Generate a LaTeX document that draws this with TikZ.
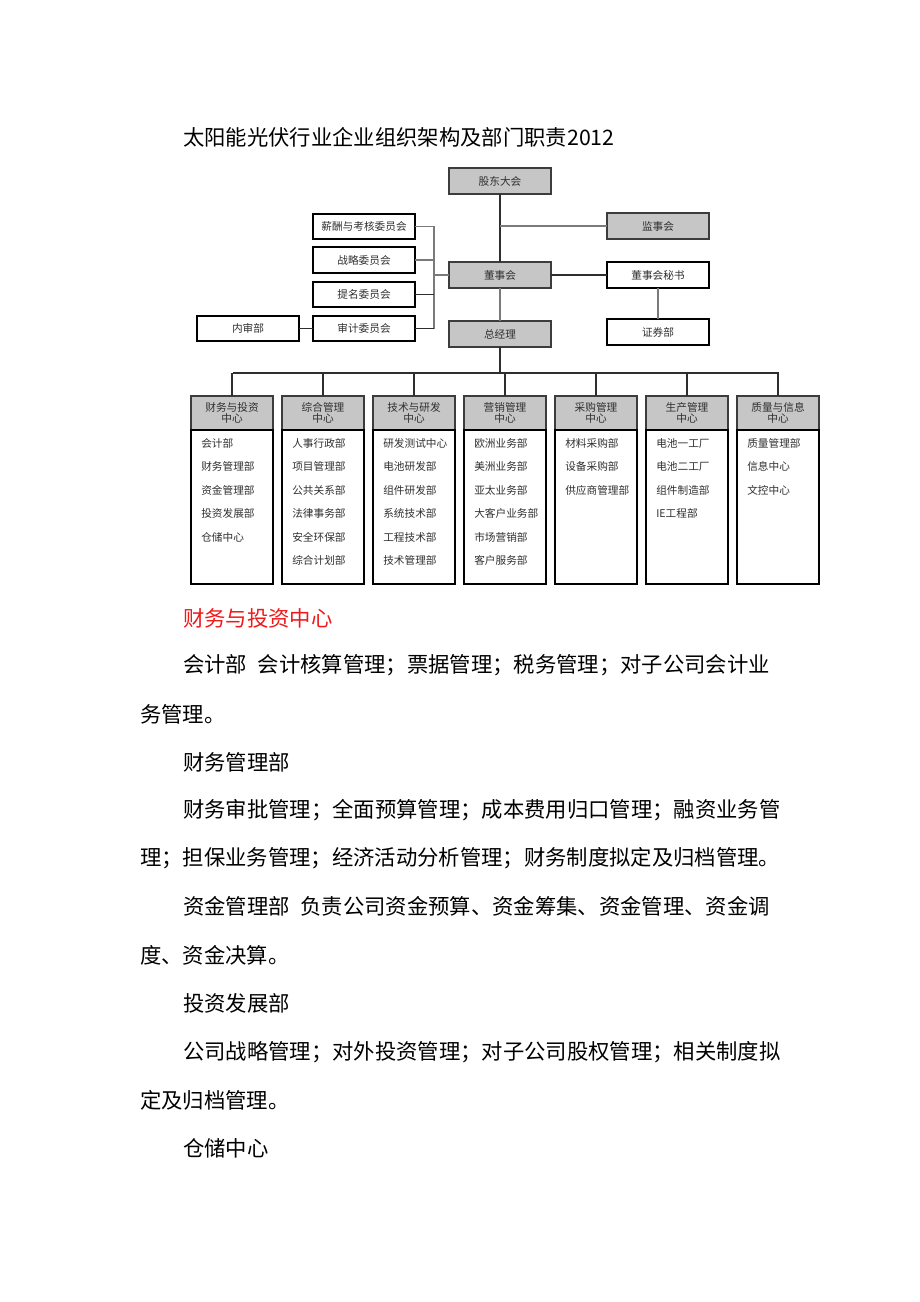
\documentclass[tikz,border=0pt]{standalone}
\usepackage{fontspec}
\setmainfont{Noto Sans CJK SC}
\usepackage{xcolor}
\usetikzlibrary{positioning}
\definecolor{OrgGray}{HTML}{C6C6C6}
\definecolor{OrgEdge}{HTML}{3C3C3C}
\definecolor{OrgLine}{HTML}{7A7A7A}
\definecolor{OrgDark}{HTML}{2E2E2E}
\definecolor{OrgText}{HTML}{303030}
\definecolor{OrgRed}{HTML}{F0191A}
\newcommand\orgfont{\fontsize{8}{8.8}\selectfont}
\newcommand\bodyfont{\fontsize{16}{16}\selectfont}
\tikzset{
  grybox/.style={draw=OrgEdge,fill=OrgGray,line width=1.1pt,inner sep=0pt,outer sep=0pt,
    minimum width=76.5pt,minimum height=19.5pt,font=\orgfont,text=OrgText},
  whtbox/.style={draw=black,fill=white,line width=1.5pt,inner sep=0pt,outer sep=0pt,
    minimum width=76.5pt,minimum height=19pt,font=\orgfont,text=OrgText},
  colhead/.style={grybox,minimum width=61.5pt,minimum height=25.5pt,align=center},
  colbody/.style={whtbox,minimum width=61.5pt,minimum height=115.5pt},
  colitem/.style={anchor=west,inner sep=0pt,font=\orgfont,text=OrgText},
  bodyline/.style={anchor=west,inner sep=0pt,font=\bodyfont},
  thinlink/.style={draw=OrgLine,line width=0.8pt},
  darklink/.style={draw=OrgDark,line width=1.1pt}
}
\begin{document}
\begin{tikzpicture}[x=0.75pt,y=-0.75pt]
\useasboundingbox (0,0) rectangle (920,1302);
\fill[white] (0,0) rectangle (920,1302);
% title
\node[bodyline] (title) at (183,137) {太阳能光伏行业企业组织架构及部门职责2012};
% top of the chart
\node[grybox] (gd) at (500,181) {股东大会};
\node[grybox] (board) at (500,275) {董事会};
\node[grybox] (gm) at (500,334) {总经理};
\node[grybox] (supv) at (658,226) {监事会};
\node[whtbox] (secr) at (658,275) {董事会秘书};
\node[whtbox] (sec) at (658,332) {证券部};
\node[whtbox] (pay) at (364,226.5) {薪酬与考核委员会};
\node[whtbox] (strat) at (364,260) {战略委员会};
\node[whtbox] (nom) at (364,294.5) {提名委员会};
\node[whtbox] (aud) at (364,328.5) {审计委员会};
\node[whtbox] (inaud) at (248,328.5) {内审部};
\coordinate (brktop) at (434,226.5);
\coordinate (brkbot) at (434,328.5);
\coordinate (busmid) at (500,373);
\coordinate (busl) at (233,373);
\coordinate (busr) at (779,373);
\draw[darklink] (gd.south) -- (board.north);
\draw[thinlink] (supv.west) -- (supv.west -| gd.south);
\draw[thinlink] (board.south) -- (gm.north);
\draw[darklink] (gm.south) -- (busmid);
\draw[darklink,line width=1.5pt] (board.east) -- (secr.west);
\draw[thinlink] (secr.south) -- (sec.north);
\draw[thinlink] (pay.east) -- (brktop) -- (brkbot);
\draw[thinlink] (strat.east) -- (strat.east -| brktop);
\draw[darklink] (nom.east) -- (nom.east -| brktop);
\draw[darklink] (aud.east) -- (brkbot);
\draw[thinlink] (board.west) -- (board.west -| brktop);
\draw[darklink] (inaud.east) -- (aud.west);
% centres
\draw[darklink] (busl) -- (busr);
\foreach \i/\hd/\items in {
  1/{财务与投资\\中心}/{会计部,财务管理部,资金管理部,投资发展部,仓储中心},
  2/{综合管理\\中心}/{人事行政部,项目管理部,公共关系部,法律事务部,安全环保部,综合计划部},
  3/{技术与研发\\中心}/{研发测试中心,电池研发部,组件研发部,系统技术部,工程技术部,技术管理部},
  4/{营销管理\\中心}/{欧洲业务部,美洲业务部,亚太业务部,大客户业务部,市场营销部,客户服务部},
  5/{采购管理\\中心}/{材料采购部,设备采购部,供应商管理部},
  6/{生产管理\\中心}/{电池一工厂,电池二工厂,组件制造部,IE工程部},
  7/{质量与信息\\中心}/{质量管理部,信息中心,文控中心}} {
  \node[colhead] (head\i) at ({232+91*(\i-1)},413) {\hd};
  \node[colbody,below=0pt of head\i] (body\i) {};
  \draw[darklink] (head\i.north |- busmid) -- (head\i.north);
  \foreach \t [count=\k] in \items
    \node[colitem] (item\i-\k) at ({201+91*(\i-1)},{443+23.5*(\k-1)}) {\t};
}
% text below the chart
\node[bodyline,text=OrgRed] (fhead) at (183,618) {财务与投资中心};
\node[bodyline] (l1) at (183,665) {会计部\hspace{0.5em}会计核算管理；票据管理；税务管理；对子公司会计业};
\node[bodyline] (l2) at (140,714) {务管理。};
\node[bodyline] (l3) at (183,762) {财务管理部};
\node[bodyline] (l4) at (183,810) {财务审批管理；全面预算管理；成本费用归口管理；融资业务管};
\node[bodyline] (l5) at (140,858) {理；担保业务管理；经济活动分析管理；财务制度拟定及归档管理。};
\node[bodyline] (l6) at (183,906) {资金管理部\hspace{0.5em}负责公司资金预算、资金筹集、资金管理、资金调};
\node[bodyline] (l7) at (140,955) {度、资金决算。};
\node[bodyline] (l8) at (183,1003) {投资发展部};
\node[bodyline] (l9) at (183,1052) {公司战略管理；对外投资管理；对子公司股权管理；相关制度拟};
\node[bodyline] (l10) at (140,1100) {定及归档管理。};
\node[bodyline] (l11) at (183,1148) {仓储中心};
\end{tikzpicture}
\end{document}
